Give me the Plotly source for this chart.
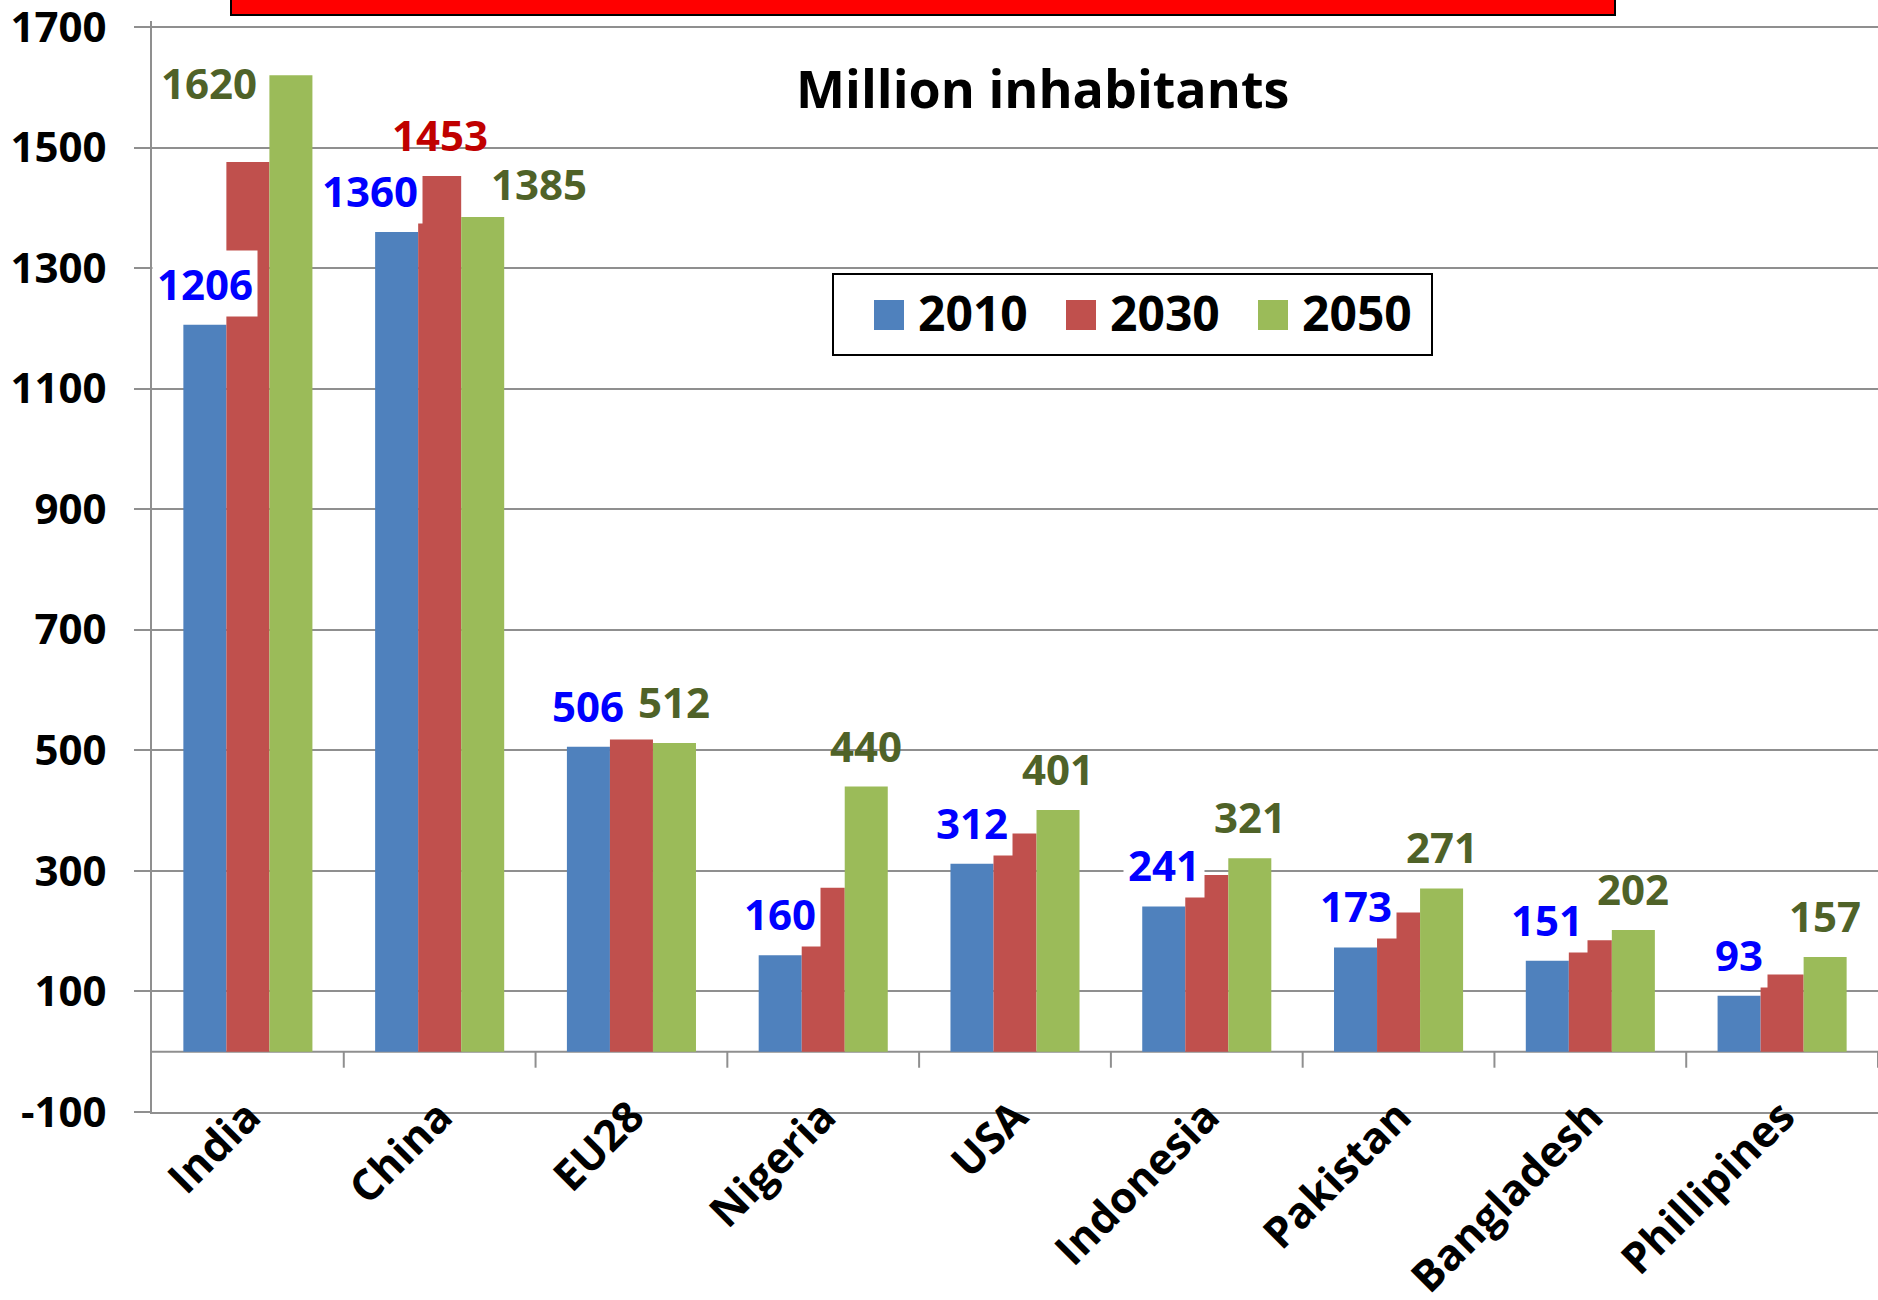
import plotly.graph_objects as go

# ---- data -------------------------------------------------------------
countries = ["India", "China", "EU28", "Nigeria", "USA", "Indonesia",
             "Pakistan", "Bangladesh", "Phillipines"]
years = ["2010", "2030", "2050"]
pop_2010 = [1206, 1360, 506, 160, 312, 241, 173, 151, 93]
pop_2030 = [1476, 1453, 518, 272, 362, 293, 231, 185, 128]
pop_2050 = [1620, 1385, 512, 440, 401, 321, 271, 202, 157]
labelled_2030 = ["China"]          # only this 2030 bar carries a value label
y_ticks = [-100, 100, 300, 500, 700, 900, 1100, 1300, 1500, 1700]
y_tick_text = [str(v) for v in y_ticks]

# ---- styling ----------------------------------------------------------
W, H = 1878, 1300
ML, MR, MT, MB = 152, 0, 21, 188
Y_RANGE = [-100, 1710]
FONT = "Open Sans"
GRID = "#8f8f8f"
bar_colors = {"2010": "#4F81BD", "2030": "#C0504D", "2050": "#9BBB59"}
label_colors = {"2010": "#0000FF", "2030": "#C00000", "2050": "#4F6228"}
BARGAP = 0.327
SLOT = (1 - BARGAP) / 3            # width of one bar in category units

# hand-placed labels: (xshift, yshift) in pixels
label_shift = {("2050", "India"): (-82, -41),
               ("2050", "China"): (56, 0),
               ("2010", "China"): (-27, 8)}


def paper_x(px):
    return (px - ML) / (W - ML - MR)


def paper_y(py):
    return (H - MB - py) / (H - MT - MB)


series = {"2010": pop_2010, "2030": pop_2030, "2050": pop_2050}

fig = go.Figure()
for yr in years:
    fig.add_trace(go.Bar(
        x=countries, y=series[yr], name=yr,
        marker=dict(color=bar_colors[yr], line=dict(width=0)),
        showlegend=False, hoverinfo="x+y+name",
    ))

# ---- value labels -----------------------------------------------------
annotations = []
for k, yr in enumerate(years):
    for i, (c, v) in enumerate(zip(countries, series[yr])):
        if yr == "2030" and c not in labelled_2030:
            continue
        xs, ys = label_shift.get((yr, c), (0, 8))
        annotations.append(dict(
            x=i + (k - 1) * SLOT, y=v, xref="x", yref="y",
            text=str(v), showarrow=False,
            xanchor="center", yanchor="bottom",
            xshift=xs, yshift=ys,
            bgcolor="white" if yr == "2010" else "rgba(0,0,0,0)",
            borderpad=4,
            font=dict(family=FONT, size=42, weight=700, color=label_colors[yr]),
        ))

# ---- chart heading ----------------------------------------------------
annotations.append(dict(
    x=paper_x(1042), y=paper_y(88), xref="paper", yref="paper",
    text="Million inhabitants", showarrow=False,
    xanchor="center", yanchor="middle",
    font=dict(family=FONT, size=52, weight=700, color="black"),
))

# ---- legend (drawn by hand for large swatches) ------------------------
shapes = []
shapes.append(dict(type="rect", xref="paper", yref="paper",
                   x0=paper_x(833), x1=paper_x(1432),
                   y0=paper_y(355), y1=paper_y(274),
                   line=dict(color="black", width=2), fillcolor="white",
                   layer="above"))
for k, yr in enumerate(years):
    x0 = 874 + 192 * k
    shapes.append(dict(type="rect", xref="paper", yref="paper",
                       x0=paper_x(x0), x1=paper_x(x0 + 30),
                       y0=paper_y(330), y1=paper_y(300),
                       line=dict(width=0), fillcolor=bar_colors[yr],
                       layer="above"))
    annotations.append(dict(
        x=paper_x(x0 + 42), y=paper_y(313), xref="paper", yref="paper",
        text=yr, showarrow=False, xanchor="left", yanchor="middle",
        font=dict(family=FONT, size=48, weight=700, color="black"),
    ))

# ---- red banner at the very top ---------------------------------------
shapes.append(dict(type="rect", xref="paper", yref="paper",
                   x0=paper_x(231), x1=paper_x(1615),
                   y0=paper_y(15), y1=paper_y(-20),
                   line=dict(color="black", width=2), fillcolor="#FF0000",
                   layer="above"))

# ---- category axis drawn across the zero level ------------------------
shapes.append(dict(type="line", xref="paper", yref="y",
                   x0=0, x1=1, y0=0, y1=0,
                   line=dict(color=GRID, width=2), layer="below"))
for i in range(len(countries)):
    shapes.append(dict(type="line", xref="x", yref="y",
                       ysizemode="pixel", yanchor=0,
                       x0=i + 0.5, x1=i + 0.5, y0=0, y1=-16,
                       line=dict(color=GRID, width=2), layer="below"))

fig.update_layout(
    width=W, height=H,
    margin=dict(l=ML, r=MR, t=MT, b=MB, autoexpand=False),
    paper_bgcolor="white", plot_bgcolor="white",
    barmode="group", bargap=BARGAP, bargroupgap=0,
    showlegend=False,
    shapes=shapes, annotations=annotations,
    xaxis=dict(
        type="category", categoryorder="array", categoryarray=countries,
        range=[-0.5, len(countries) - 0.5], automargin=False,
        showgrid=False, showline=True, linecolor=GRID, linewidth=2,
        ticks="", tickangle=-45, ticklabelstandoff=-40,
        ticklabeloverflow="allow",
        tickfont=dict(family=FONT, size=43, weight=700, color="black"),
    ),
    yaxis=dict(
        range=Y_RANGE, tickmode="array", tickvals=y_ticks,
        ticktext=y_tick_text, automargin=False,
        ticklabeloverflow="allow",
        showgrid=True, gridcolor=GRID, gridwidth=2,
        zeroline=False,
        showline=True, linecolor=GRID, linewidth=2,
        ticks="outside", ticklen=16, tickwidth=2, tickcolor=GRID,
        ticklabelstandoff=19,
        tickfont=dict(family=FONT, size=42, weight=700, color="black"),
    ),
)

fig.write_html("out.html")
